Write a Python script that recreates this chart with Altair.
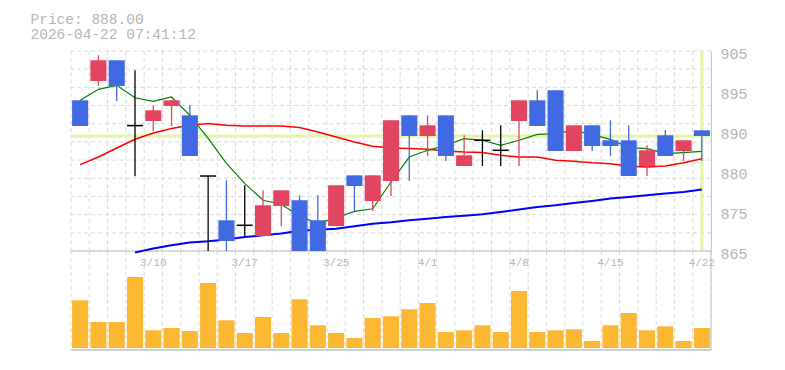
import altair as alt
import pandas as pd

# ---------------- data ----------------
DATES = ['3/4', '3/5', '3/6', '3/9', '3/10', '3/11', '3/12', '3/13', '3/16', '3/17',
         '3/18', '3/19', '3/23', '3/24', '3/25', '3/26', '3/27', '3/30', '3/31', '4/1',
         '4/2', '4/3', '4/6', '4/7', '4/8', '4/9', '4/10', '4/13', '4/14', '4/15',
         '4/16', '4/17', '4/20', '4/21', '4/22']
OPEN = [894.70, 898.31, 902.20, 889.95, 890.81, 893.63, 891.88, 880.50, 872.20, 871.26,
        869.25, 874.88, 875.95, 872.20, 871.13, 880.63, 875.82, 879.57, 891.88, 888.00,
        891.88, 882.38, 887.20, 885.32, 890.81, 894.70, 896.57, 885.19, 890.01, 887.20,
        887.20, 882.38, 888.13, 885.19, 889.07]
HIGH = [894.70, 903.13, 902.20, 900.32, 893.76, 894.70, 893.76, 880.50, 879.70, 878.76,
        877.82, 877.82, 876.88, 876.88, 878.76, 880.63, 880.63, 890.95, 891.88, 891.88,
        891.88, 888.13, 889.07, 890.01, 894.70, 896.57, 896.57, 890.01, 890.01, 890.95,
        890.01, 886.26, 889.07, 887.20, 889.07]
LOW = [889.88, 897.38, 894.56, 880.45, 888.94, 889.88, 884.25, 865.50, 865.50, 869.06,
       869.25, 871.13, 865.00, 865.00, 871.13, 873.94, 873.94, 876.75, 879.56, 884.25,
       883.32, 882.38, 882.38, 882.38, 882.38, 889.88, 885.19, 885.19, 885.19, 884.25,
       880.50, 880.50, 884.25, 883.32, 883.32]
CLOSE = [889.88, 902.20, 897.38, 889.95, 892.82, 894.70, 884.25, 880.50, 868.31, 871.26,
         875.01, 877.82, 865.00, 865.00, 878.76, 878.63, 880.63, 890.95, 888.00, 890.01,
         884.25, 884.38, 887.20, 885.32, 894.70, 889.88, 885.19, 890.01, 886.13, 886.13,
         880.50, 885.32, 884.25, 887.20, 888.00]
MA5 = [894.70, 896.76, 897.51, 895.17, 894.51, 895.32, 891.88, 887.57, 882.88, 879.13,
       875.95, 875.20, 872.95, 871.63, 872.67, 873.88, 874.35, 879.38, 884.06, 885.32,
       886.26, 887.51, 887.20, 886.26, 887.20, 888.32, 888.45, 889.07, 888.26, 887.38,
       885.83, 885.64, 884.70, 884.89, 885.13]
MA25 = [882.64, 884.06, 885.75, 887.38, 888.57, 889.39, 890.02, 890.33, 890.02, 889.88,
        889.88, 889.88, 889.58, 888.75, 887.81, 886.88, 886.07, 885.75, 885.64, 885.51,
        885.19, 885.00, 884.89, 884.38, 884.06, 884.06, 883.45, 883.26, 882.98, 882.79,
        882.32, 882.19, 882.38, 882.98, 883.73]
MA75 = [None, None, None, 866.14, 866.89, 867.51, 868.02, 868.26, 868.58, 869.07,
        869.38, 869.70, 870.23, 870.42, 870.60, 871.07, 871.54, 871.82, 872.20, 872.48,
        872.82, 873.04, 873.32, 873.76, 874.20, 874.69, 875.01, 875.44, 875.82, 876.27,
        876.57, 876.88, 877.20, 877.50, 877.95]
VOLUME = [4770, 2600, 2600, 7100, 1770, 2000, 1700, 6500, 2770, 1500,
          3100, 1500, 4870, 2270, 1500, 1000, 3000, 3170, 3870, 4500,
          1600, 1770, 2270, 1600, 5700, 1600, 1770, 1870, 700, 2270,
          3500, 1770, 2170, 700, 2000]
TICK_DATES = ['3/10', '3/17', '3/25', '4/1', '4/8', '4/15', '4/22']
PRICE_NOW = 888.00
TIMESTAMP = '2026-04-22 07:41:12'

# ---------------- style ----------------
RED = '#e1455f'
BLUE = '#4169e1'
YEL = '#e4f4a8'
VOL = '#fcb733'
GRID = '#dadada'
AXIS = '#c0c0c0'
TXT = '#b5b5b5'
FONT = 'Liberation Mono'

N = len(DATES)
P_MIN, P_MAX = 866.44, 903.94
V_MIN, V_MAX = -200, 9700

df = pd.DataFrame({'idx': list(range(N)), 'date': DATES, 'open': OPEN, 'high': HIGH,
                   'low': LOW, 'close': CLOSE, 'ma5': MA5, 'ma25': MA25, 'ma75': MA75,
                   'volume': VOLUME})
df['dir'] = ['up' if c > o else ('down' if c < o else 'flat') for o, c in zip(OPEN, CLOSE)]

xscale = alt.Scale(domain=[-0.5, N - 0.5], nice=False, zero=False)
yscale = alt.Scale(domain=[P_MIN, P_MAX], nice=False, zero=False)
vscale = alt.Scale(domain=[V_MIN, V_MAX], nice=False, zero=False)
cscale = alt.Scale(domain=['up', 'down', 'flat'], range=[RED, BLUE, '#000000'])

XGRID = [i - 0.5 for i in range(N + 1)]
YGRID = [P_MIN + k * (P_MAX - P_MIN) / 11 for k in range(12)]
YLAB = [P_MAX - 7.5 * k for k in range(6)]

y_label_axis = alt.Axis(orient='right', values=YLAB, grid=False, ticks=False, domain=True,
                        domainColor=AXIS, labelExpr="format(round(datum.value/5)*5, 'd')",
                        labelFont=FONT, labelFontSize=15, labelColor=TXT, labelPadding=9,
                        labelOffset=2, title=None)

base = alt.Chart(df).transform_calculate(x0='datum.idx - 0.44', x1='datum.idx + 0.44')


def vgrid():
    return alt.Chart(pd.DataFrame({'b': XGRID})).mark_rule(
        color=GRID, strokeDash=[4, 3], strokeWidth=1).encode(
        x=alt.X('b:Q', scale=xscale, axis=None))


def hline(value, scale, color, width=1):
    return alt.Chart(pd.DataFrame({'v': [value]})).mark_rule(
        color=color, strokeWidth=width).encode(
        y=alt.Y('v:Q', scale=scale, axis=None))


def vline(value, color, width=1):
    return alt.Chart(pd.DataFrame({'v': [value]})).mark_rule(
        color=color, strokeWidth=width).encode(
        x=alt.X('v:Q', scale=xscale, axis=None))


hgrid = alt.Chart(pd.DataFrame({'g': YGRID})).mark_rule(
    color=GRID, strokeDash=[4, 3], strokeWidth=1).encode(
    y=alt.Y('g:Q', scale=yscale, axis=None))


def ma_line(field, color, width):
    return alt.Chart(df).mark_line(color=color, strokeWidth=width).encode(
        x=alt.X('idx:Q', scale=xscale, axis=None),
        y=alt.Y(f'{field}:Q', scale=yscale, axis=None))


wicks = base.mark_rule(strokeWidth=1.3, clip=True).encode(
    x=alt.X('idx:Q', scale=xscale, axis=None),
    y=alt.Y('low:Q', scale=yscale, axis=None), y2='high:Q',
    color=alt.Color('dir:N', scale=cscale, legend=None))
bodies = base.transform_filter("datum.dir != 'flat'").mark_bar(clip=True).encode(
    x=alt.X('x0:Q', scale=xscale, axis=None), x2='x1:Q',
    y=alt.Y('open:Q', scale=yscale, axis=y_label_axis), y2='close:Q',
    color=alt.Color('dir:N', scale=cscale, legend=None))
doji = base.transform_filter("datum.dir == 'flat'").mark_rule(
    color='#000000', strokeWidth=1.5).encode(
    x=alt.X('x0:Q', scale=xscale, axis=None), x2='x1:Q',
    y=alt.Y('open:Q', scale=yscale, axis=None))

price = alt.layer(
    hgrid, vgrid(),
    hline(PRICE_NOW, yscale, YEL, 3), vline(N - 1, YEL, 3),
    hline(P_MIN, yscale, AXIS, 1.2),
    ma_line('ma75', '#0000ff', 2), ma_line('ma25', '#ff0000', 1.5),
    ma_line('ma5', '#008000', 1.2),
    wicks, bodies, doji,
).resolve_axis(x='independent', y='independent').properties(width=640, height=200)

vbars = base.mark_bar(color=VOL).encode(
    x=alt.X('x0:Q', scale=xscale, axis=None), x2='x1:Q',
    y=alt.Y('volume:Q', scale=vscale, axis=None), y2=alt.datum(0))
tick_df = pd.DataFrame({'label': TICK_DATES, 'idx': [DATES.index(d) for d in TICK_DATES]})
date_labels = alt.Chart(tick_df).mark_text(font=FONT, fontSize=11, color=TXT,
                                           baseline='middle').encode(
    x=alt.X('idx:Q', scale=xscale, axis=None), y=alt.value(11.5), text='label:N')
volume = alt.layer(
    vgrid(), vbars,
    hline(V_MIN, vscale, AXIS, 1.5), vline(N - 0.5, AXIS, 1),
    date_labels,
).properties(width=640, height=99)

chart = alt.vconcat(price, volume, spacing=0, bounds='flush').properties(
    title=alt.TitleParams(text=f'Price: {PRICE_NOW:.2f}', subtitle=TIMESTAMP,
                          anchor='start', frame='group', dx=-40.5, font=FONT,
                          fontSize=14.5, fontWeight='normal', color=TXT,
                          subtitleFont=FONT, subtitleFontSize=14.5, subtitleColor=TXT,
                          subtitlePadding=0.5, offset=4),
    padding={'left': 22, 'top': 3, 'right': 5, 'bottom': 5},
).configure_view(stroke=None)

chart.save('out.html', embed_options={'renderer': 'svg', 'actions': False})
